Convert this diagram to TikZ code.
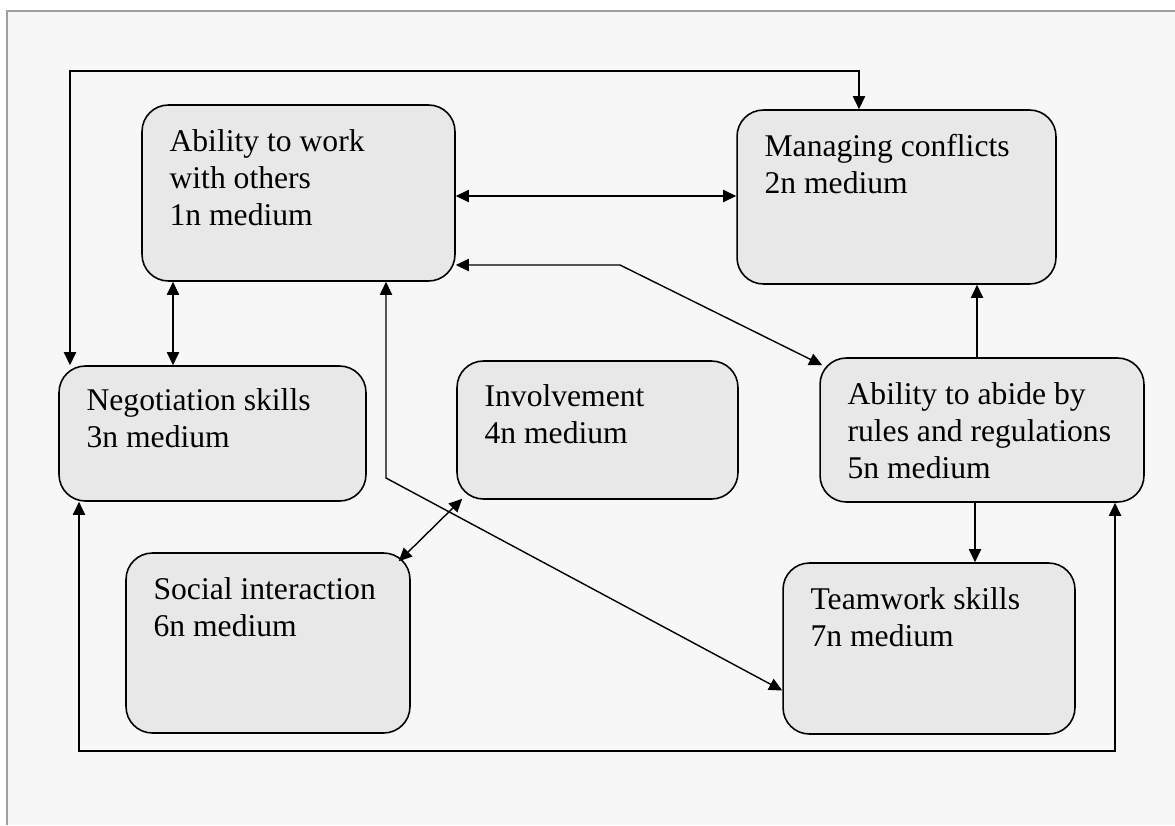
\documentclass[tikz,border=0pt]{standalone}
\usepackage{fontspec}
\setmainfont{Liberation Serif}
\usetikzlibrary{arrows.meta}
\definecolor{paper}{HTML}{F7F7F7}
\definecolor{boxgray}{HTML}{E8E8E8}
\definecolor{framegray}{HTML}{A0A0A0}
\tikzstyle{skillBox}=[shape = rectangle, rounded corners = 15pt, draw, fill = boxgray, line width = 0.9pt, inner sep = 0pt]
\tikzstyle{skillText}=[anchor = north west, align = left, inner sep = 0pt, font = \fontsize{18pt}{21pt}\selectfont]

\begin{document}
\begin{tikzpicture}[x = 0.02cm, y = -0.02cm, >={Triangle[length = 7.5pt, width = 7pt]}]
\tikzstyle{linkStyle} = [draw, line width = 0.8pt]
\useasboundingbox (0,0) rectangle (1175,825);
\fill[paper] (7,11) rectangle (1175,825);
\draw[framegray, line width = 1.1pt] (7,825) -- (7,11) -- (1175,11);
% boxes
\node[skillBox, minimum width = 6.26cm, minimum height = 3.52cm] (v1) at (298.5,193) {};
\node[skillBox, minimum width = 6.38cm, minimum height = 3.48cm] (v2) at (896.5,197) {};
\node[skillBox, minimum width = 6.14cm, minimum height = 2.70cm] (v3) at (212.5,433.5) {};
\node[skillBox, minimum width = 5.62cm, minimum height = 2.76cm] (v4) at (597.5,430) {};
\node[skillBox, minimum width = 6.48cm, minimum height = 2.88cm] (v5) at (982,430) {};
\node[skillBox, minimum width = 5.68cm, minimum height = 3.60cm] (v6) at (268,643) {};
\node[skillBox, minimum width = 5.84cm, minimum height = 3.42cm] (v7) at (929,648.5) {};
% texts
\node[skillText] (t1) at ([shift = {(28,25)}]v1.north west) {Ability to work\\with others\\1n medium};
\node[skillText] (t2) at ([shift = {(28,25)}]v2.north west) {Managing conflicts\\2n medium};
\node[skillText] (t3) at ([shift = {(28,23)}]v3.north west) {Negotiation skills\\3n medium};
\node[skillText] (t4) at ([shift = {(28,24)}]v4.north west) {Involvement\\4n medium};
\node[skillText] (t5) at ([shift = {(28,25)}]v5.north west) {Ability to abide by\\rules and regulations\\5n medium};
\node[skillText] (t6) at ([shift = {(28,25)}]v6.north west) {Social interaction\\6n medium};
\node[skillText] (t7) at ([shift = {(28,25)}]v7.north west) {Teamwork skills\\7n medium};
% connectors
\coordinate (c1) at (70,71);
\coordinate (c2) at (859,71);
\coordinate (c3) at (0,196);
\coordinate (c4) at (173,0);
\coordinate (c5) at (620,265);
\coordinate (c6) at (386,478);
\coordinate (c7) at (977,0);
\coordinate (c8) at (975,0);
\coordinate (c9) at (79,751);
\coordinate (c10) at (1115,751);
\draw[linkStyle, <->] (v3.north -| c1) -- (c1) -- (c2) -- (c2 |- v2.north);
\draw[linkStyle, <->] (v1.east |- c3) -- (v2.west |- c3);
\draw[linkStyle, <->] (v1.south -| c4) -- (v3.north -| c4);
\draw[linkStyle, <->] (v1.east |- c5) -- (c5) -- ([shift = {(3,8)}]v5.north west);
\draw[linkStyle, <->] (v1.south -| c6) -- (c6) -- ([shift = {(0,42)}]v7.west);
\draw[linkStyle, <->] ([shift = {(6,-1)}]v4.south west) -- ([shift = {(-12,9)}]v6.north east);
\draw[linkStyle, ->] (v5.north -| c7) -- (v2.south -| c7);
\draw[linkStyle, ->] (v5.south -| c8) -- (v7.north -| c8);
\draw[linkStyle, <->] (v3.south -| c9) -- (c9) -- (c10) -- (c10 |- v5.south);
\end{tikzpicture}
\end{document}
